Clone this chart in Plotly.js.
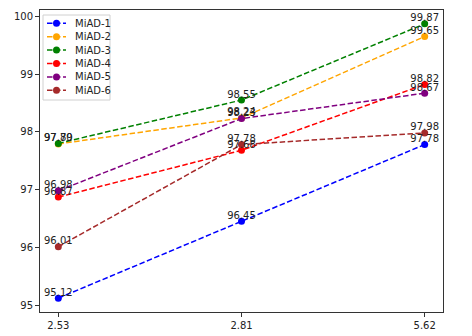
<!DOCTYPE html>
<html>
<head>
<meta charset="utf-8">
<script src="https://cdn.plot.ly/plotly-3.0.1.min.js"></script>
<style>
  body { margin: 0; }
  #chart { width: 472px; height: 336px; }
</style>
</head>
<body>
<div id="chart"></div>
<script>
// x categories
var xLabels = ['2.53', '2.81', '5.62'];

// series values
var miad1 = [95.12, 96.45, 97.78];
var miad2 = [97.79, 98.24, 99.65];
var miad3 = [97.80, 98.55, 99.87];
var miad4 = [96.87, 97.68, 98.82];
var miad5 = [96.98, 98.23, 98.67];
var miad6 = [96.01, 97.78, 97.98];

var names = ['MiAD-1', 'MiAD-2', 'MiAD-3', 'MiAD-4', 'MiAD-5', 'MiAD-6'];
var colors = ['blue', 'orange', 'green', 'red', 'purple', 'brown'];
var series = [miad1, miad2, miad3, miad4, miad5, miad6];

// matplotlib-like short dashes
var dashStyle = '5.5px,2.5px';

// plot box in pixels, used for the hand-made legend (plotly's own legend rows are too tall)
var plotL = 40, plotT = 10, plotW = 403, plotH = 302;
function px(p) { return (p - plotL) / plotW; }
function py(p) { return (plotT + plotH - p) / plotH; }

var data = [];
series.forEach(function(vals, i) {
  data.push({
    x: xLabels,
    y: vals,
    name: names[i],
    mode: 'lines+markers',
    type: 'scatter',
    line: {color: colors[i], dash: dashStyle, width: 1.5},
    marker: {color: colors[i], size: 7},
    showlegend: false
  });
});
// value labels
series.forEach(function(vals, i) {
  data.push({
    x: xLabels,
    y: vals,
    mode: 'text',
    type: 'scatter',
    text: vals.map(function(v) { return v.toFixed(2); }),
    textposition: 'top center',
    textfont: {size: 10, color: '#222'},
    showlegend: false,
    hoverinfo: 'skip'
  });
});

// legend box
var shapes = [{
  type: 'rect', xref: 'paper', yref: 'paper',
  x0: px(43), x1: px(110), y0: py(15), y1: py(100),
  line: {color: '#d0d0d0', width: 1}, fillcolor: 'rgba(255,255,255,0.8)'
}];
var annotations = [];
names.forEach(function(n, i) {
  var rowY = py(23.3 + i * 13.4);
  shapes.push({
    type: 'line', xref: 'paper', yref: 'paper',
    x0: px(47), x1: px(66), y0: rowY, y1: rowY,
    line: {color: colors[i], width: 1.5, dash: dashStyle}
  });
  shapes.push({
    type: 'circle', xref: 'paper', yref: 'paper',
    xsizemode: 'pixel', ysizemode: 'pixel',
    xanchor: px(56.5), yanchor: rowY,
    x0: -3.5, x1: 3.5, y0: -3.5, y1: 3.5,
    fillcolor: colors[i], line: {width: 0}
  });
  annotations.push({
    xref: 'paper', yref: 'paper',
    x: px(73), y: rowY, xanchor: 'left', yanchor: 'middle',
    text: n, showarrow: false,
    font: {size: 10, color: '#222'}
  });
});

var layout = {
  width: 472,
  height: 336,
  margin: {l: 40, r: 29, t: 10, b: 24},
  paper_bgcolor: 'white',
  plot_bgcolor: 'white',
  font: {family: 'DejaVu Sans', size: 10, color: '#222'},
  showlegend: false,
  shapes: shapes,
  annotations: annotations,
  xaxis: {
    type: 'category',
    range: [-0.1, 2.1],
    showgrid: false,
    zeroline: false,
    showline: true,
    mirror: true,
    linecolor: '#333',
    linewidth: 1,
    ticks: 'outside',
    ticklen: 4,
    tickcolor: '#333'
  },
  yaxis: {
    range: [94.88, 100.11],
    tickvals: [95, 96, 97, 98, 99, 100],
    showgrid: false,
    zeroline: false,
    showline: true,
    mirror: true,
    linecolor: '#333',
    linewidth: 1,
    ticks: 'outside',
    ticklen: 4,
    tickcolor: '#333'
  }
};

Plotly.newPlot('chart', data, layout, {displayModeBar: false});
</script>
</body>
</html>
